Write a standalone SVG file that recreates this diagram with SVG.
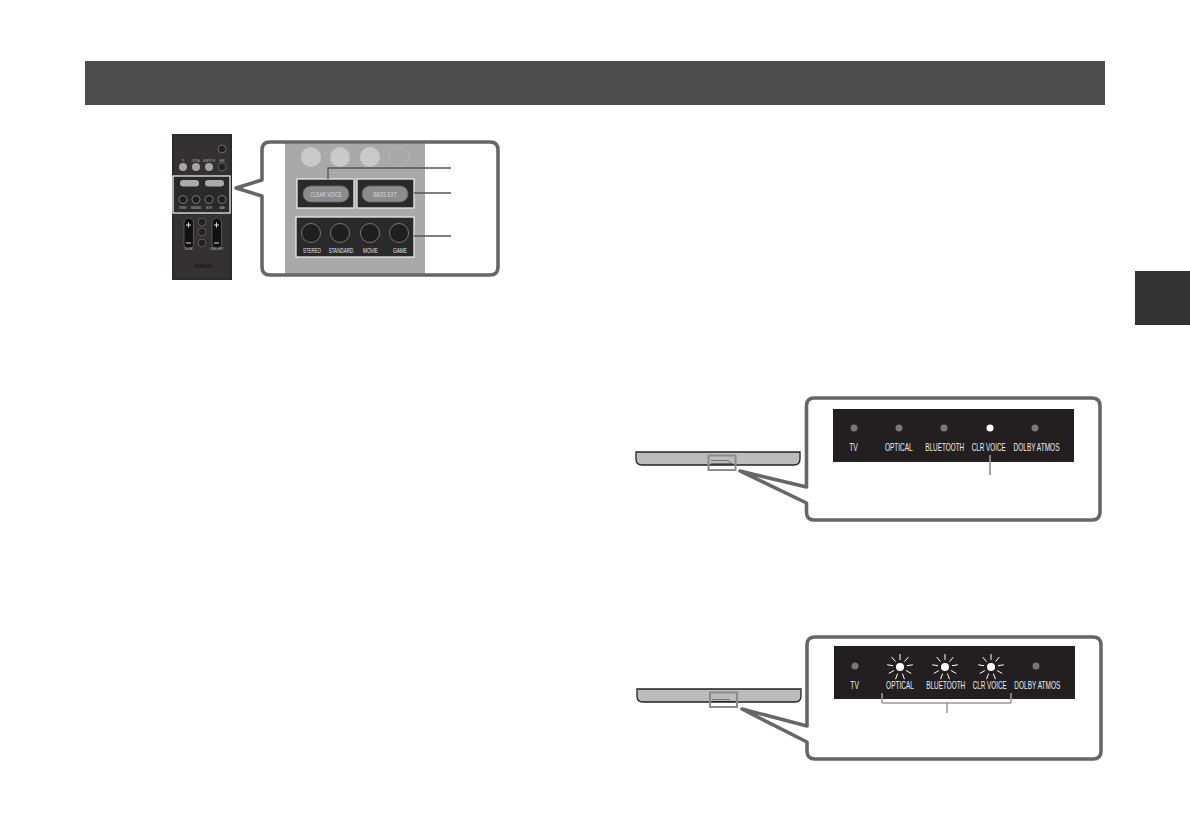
<svg xmlns="http://www.w3.org/2000/svg" xmlns:xlink="http://www.w3.org/1999/xlink" width="1190" height="840" viewBox="0 0 1190 840">
<style>
text{font-family:"Liberation Sans",Arial,sans-serif;text-anchor:middle}
.call{fill:none;stroke:#666;stroke-width:3.6;stroke-linejoin:round}
.hl{fill:#2b2a2a;stroke:#e8e8e8;stroke-width:1.3}
.pill{fill:#8c8c8c;stroke:#666;stroke-width:.8}
.round{fill:#1f1f1f;stroke:#8a8a8a;stroke-width:.8}
.top{fill:#c9c9c9}
.lbl{fill:#e6e6e6;font-size:8px}
.lbl2{fill:#ececec;font-size:10px}
.pl{fill:#dcdcdc;font-size:7px}
.lead{fill:none;stroke:#555;stroke-width:1.3}
.led{fill:#777}
.on{fill:#fff}
.ray{stroke:#fff;stroke-width:1;fill:none}
.bar{fill:#bcbcbc;stroke:#222;stroke-width:1.3}
.zoom{fill:none;stroke:#8c8c8c;stroke-width:2}
.tiny{fill:#c4c4c4;font-size:3.5px}
</style>
<defs>
<g id="rays" class="ray">
<path d="M0-7V-13M4.500-5.360L8.360-9.960M-4.500-5.360L-8.360-9.960M6.900-1.220L12.800-2.260M-6.900-1.220L-12.800-2.260M6.060 3.500L11.260 6.500M-6.060 3.500L-11.260 6.500M2.390 6.580L4.450 12.200M-2.390 6.580L-4.450 12.200"/>
</g>
</defs>
<rect id="header" x="85" y="61" width="1020" height="44" fill="#4d4d4d"/>
<rect id="side-tab" x="1135" y="271" width="55" height="54" fill="#333"/>

<g id="remote">
<rect x="172" y="134" width="60" height="146" fill="#2c2a2a"/>
<rect x="174" y="136" width="56" height="142" fill="#333131"/>
<circle cx="222" cy="149" r="4" fill="#222" stroke="#888" stroke-width=".7"/>
<g fill="#a5a5a5"><circle cx="183" cy="167" r="4"/><circle cx="196" cy="167" r="4"/><circle cx="209" cy="167" r="4"/></g>
<circle cx="222" cy="167" r="4" fill="#222" stroke="#777" stroke-width=".7"/>
<g class="tiny">
<text transform="translate(183 161.500) scale(.55 1)">TV</text>
<text transform="translate(196 161.500) scale(.55 1)">OPTICAL</text>
<text transform="translate(209 161.500) scale(.55 1)">BLUETOOTH</text>
<text transform="translate(222 161.500) scale(.55 1)">HDMI</text>
</g>
<rect x="173" y="176" width="57" height="37" class="hl"/>
<rect x="180" y="180" width="19" height="6.500" rx="3.200" fill="#aaa"/>
<rect x="205" y="180" width="19" height="6.500" rx="3.200" fill="#aaa"/>
<g class="round"><circle cx="183" cy="199.500" r="4"/><circle cx="196" cy="199.500" r="4"/><circle cx="209" cy="199.500" r="4"/><circle cx="222" cy="199.500" r="4"/></g>
<g class="tiny">
<text transform="translate(183 208.500) scale(.55 1)">STEREO</text>
<text transform="translate(196 208.500) scale(.55 1)">STANDARD</text>
<text transform="translate(209 208.500) scale(.55 1)">MOVIE</text>
<text transform="translate(222 208.500) scale(.55 1)">GAME</text>
</g>
<rect x="184" y="218" width="9.500" height="31" rx="4.700" fill="#111" stroke="#777" stroke-width=".6"/>
<rect x="212" y="218" width="9.500" height="31" rx="4.700" fill="#111" stroke="#777" stroke-width=".6"/>
<path d="M186 225h5M188.500 222.500v5M186 243h5M214 225h5M216.500 222.500v5M214 243h5" stroke="#ddd" stroke-width="1" fill="none"/>
<g fill="#222" stroke="#777" stroke-width=".6"><circle cx="202" cy="222" r="4"/><circle cx="202" cy="232" r="4"/><circle cx="202" cy="243" r="4"/></g>
<g class="tiny">
<text transform="translate(188.500 250) scale(.55 1)">VOLUME</text>
<text transform="translate(216.500 250) scale(.55 1)">SUBWOOFER</text>
</g>
<text transform="translate(203 268) scale(.7 1)" fill="#161616" font-size="6" font-weight="bold">YAMAHA</text>
</g>

<g id="callout-remote">
<rect x="285" y="143" width="140" height="131" fill="#a9a9a9"/>
<path class="call" d="M236 188L262 180V150Q262 142 270 142H490Q498 142 498 150V267Q498 275 490 275H270Q262 275 262 267V196Z"/>
<g class="top"><circle cx="311" cy="157" r="10"/><circle cx="340" cy="157" r="10"/><circle cx="370" cy="157" r="10"/></g>
<circle cx="399" cy="157" r="10" fill="#a9a9a9" stroke="#b8b8b8" stroke-width=".8"/>
</g>
<g id="btn-clear-voice">
<rect x="297" y="179" width="57" height="29" class="hl"/>
<rect x="303" y="186" width="46" height="16" rx="8" class="pill"/>
<text class="pl" transform="translate(326 197) scale(.67 1)">CLEAR VOICE</text>
</g>
<g id="btn-bass-ext">
<rect x="357" y="179" width="57" height="29" class="hl"/>
<rect x="362" y="186" width="46" height="16" rx="8" class="pill"/>
<text class="pl" transform="translate(385 197) scale(.68 1)">BASS EXT</text>
</g>
<g id="btn-modes">
<rect x="296" y="217" width="118" height="40" class="hl"/>
<g class="round"><circle cx="311" cy="233" r="9.500"/><circle cx="340" cy="233" r="9.500"/><circle cx="370" cy="233" r="9.500"/><circle cx="399" cy="233" r="9.500"/></g>
<g class="lbl">
<text transform="translate(312 252.500) scale(.55 1)">STEREO</text>
<text transform="translate(341 252.500) scale(.57 1)">STANDARD</text>
<text transform="translate(370.500 252.500) scale(.58 1)">MOVIE</text>
<text transform="translate(400 252.500) scale(.59 1)">GAME</text>
</g>
</g>

<g id="bar-top">
<path class="bar" d="M636 452H800V459Q800 465 794 465H642Q636 465 636 459Z"/>
<path d="M711 460.500H728L731 463" stroke="#555" stroke-width=".7" fill="none"/>
<path d="M711 464H733" stroke="#222" stroke-width="1" fill="none"/>
<rect x="708.500" y="455.500" width="27" height="14.500" class="zoom"/>
</g>
<g id="callout-top">
<path class="call" d="M740 471L806.500 487V406Q806.500 398 814 398H1092Q1100 398 1100 406V512Q1100 520 1092 520H814Q806.500 520 806.500 512V503Z"/>
<rect x="833" y="409" width="241" height="53" fill="#231f20"/>
<circle cx="854" cy="428" r="3.500" class="led"/><circle cx="899" cy="428" r="3.500" class="led"/><circle cx="944" cy="428" r="3.500" class="led"/><circle cx="990" cy="428" r="3.500" class="on"/><circle cx="1035" cy="428" r="3.500" class="led"/>
<g class="lbl2">
<text transform="translate(853.500 451.300) scale(.68 1)">TV</text>
<text transform="translate(898.800 451.300) scale(.65 1)">OPTICAL</text>
<text transform="translate(944.700 451.300) scale(.64 1)">BLUETOOTH</text>
<text transform="translate(988.700 451.300) scale(.63 1)">CLR VOICE</text>
<text transform="translate(1036.500 451.300) scale(.65 1)">DOLBY ATMOS</text>
</g>
</g>

<g id="bar-bottom">
<path class="bar" d="M637 689H801V696Q801 702 795 702H643Q637 702 637 696Z"/>
<path d="M712 699.500H730" stroke="#555" stroke-width=".7" fill="none"/>
<path d="M712 701.500H735" stroke="#222" stroke-width="1" fill="none"/>
<rect x="710" y="692.500" width="27" height="14.500" class="zoom"/>
</g>
<g id="callout-bottom">
<path class="call" d="M742 709L807 726V645Q807 637 815 637H1093Q1101 637 1101 645V751Q1101 759 1093 759H815Q807 759 807 751V742Z"/>
<rect x="834" y="646" width="241" height="53" fill="#231f20"/>
<circle cx="855" cy="666" r="3.500" class="led"/>
<circle cx="900" cy="667" r="4" class="on"/><use xlink:href="#rays" x="900" y="667"/>
<circle cx="945" cy="667" r="4" class="on"/><use xlink:href="#rays" x="945" y="667"/>
<circle cx="991" cy="667" r="4" class="on"/><use xlink:href="#rays" x="991" y="667"/>
<circle cx="1036" cy="666" r="3.500" class="led"/>
<g class="lbl2">
<text transform="translate(854.700 688.700) scale(.68 1)">TV</text>
<text transform="translate(900 688.700) scale(.65 1)">OPTICAL</text>
<text transform="translate(945.700 688.700) scale(.64 1)">BLUETOOTH</text>
<text transform="translate(989.700 688.700) scale(.63 1)">CLR VOICE</text>
<text transform="translate(1037.300 688.700) scale(.65 1)">DOLBY ATMOS</text>
</g>
</g>

<g id="connectors">
<path class="lead" d="M328 179V168H451"/>
<path class="lead" d="M414 193H451"/>
<path class="lead" d="M414 236H451"/>
<path d="M990 462V475" stroke="#444" stroke-width="1" fill="none"/>
<path d="M990 455V462" stroke="#ddd" stroke-width="1" fill="none"/>
<path d="M882 699V703H1011V699M947 703V713" fill="none" stroke="#666" stroke-width="1"/>
<path d="M882 693V699M1011 693V699" fill="none" stroke="#ddd" stroke-width="1"/>
</g>
</svg>
